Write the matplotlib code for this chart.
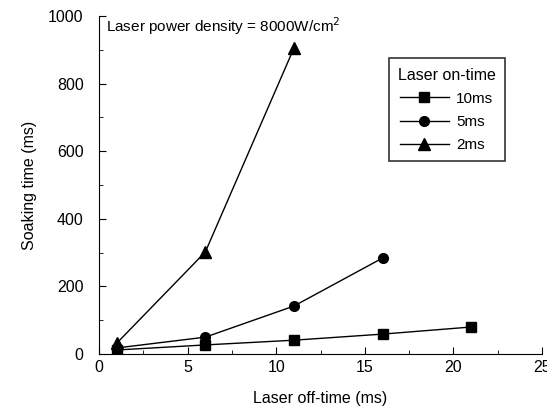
import matplotlib
matplotlib.use('Agg')
import matplotlib.pyplot as plt
from matplotlib.ticker import MultipleLocator

plt.rcParams['font.family'] = ['Liberation Sans', 'DejaVu Sans']

# laser off-time (ms) and soaking time (ms) for each on-time
off_10ms = [1, 6, 11, 16, 21]
soak_10ms = [12, 27, 41, 59, 80]
off_5ms = [1, 6, 11, 16]
soak_5ms = [18, 50, 142, 284]
off_2ms = [1, 6, 11]
soak_2ms = [32, 302, 905]

x_ticks = [0, 5, 10, 15, 20, 25]
y_ticks = [0, 200, 400, 600, 800, 1000]

fig = plt.figure(figsize=(5.47, 4.19), dpi=100)
ax = fig.add_axes([0.181, 0.155, 0.810, 0.807])

ax.plot(off_10ms, soak_10ms, 'k-', marker='s', ms=7, lw=1, label='10ms')
ax.plot(off_5ms, soak_5ms, 'k-', marker='o', ms=7, lw=1, label='5ms')
ax.plot(off_2ms, soak_2ms, 'k-', marker='^', ms=8, lw=1, label='2ms')

ax.set_xlim(0, 25)
ax.set_ylim(0, 1000)
ax.set_xticks(x_ticks)
ax.set_yticks(y_ticks)
ax.xaxis.set_minor_locator(MultipleLocator(2.5))
ax.yaxis.set_minor_locator(MultipleLocator(100))
ax.tick_params(which='both', direction='in', labelsize=11.5)
ax.tick_params(which='major', length=5)
ax.tick_params(which='minor', length=3)
ax.tick_params(axis='x', pad=4)
ax.tick_params(axis='y', pad=11)
ax.spines['top'].set_visible(False)
ax.spines['right'].set_visible(False)

ax.set_xlabel('Laser off-time (ms)', fontsize=11.5, labelpad=12)
ax.set_ylabel('Soaking time (ms)', fontsize=11.5, labelpad=8)

ax.text(0.4, 970, 'Laser power density = 8000W/cm$^2$', fontsize=11, va='center')

leg = ax.legend(title='Laser on-time', loc='upper right', bbox_to_anchor=(0.933, 0.897),
                fancybox=False, edgecolor='black', fontsize=11, title_fontsize=11.5,
                handlelength=3.2, borderpad=0.6, labelspacing=0.6, handletextpad=0.5)
leg.get_frame().set_linewidth(1.2)

fig.savefig('out.png', dpi=100)
